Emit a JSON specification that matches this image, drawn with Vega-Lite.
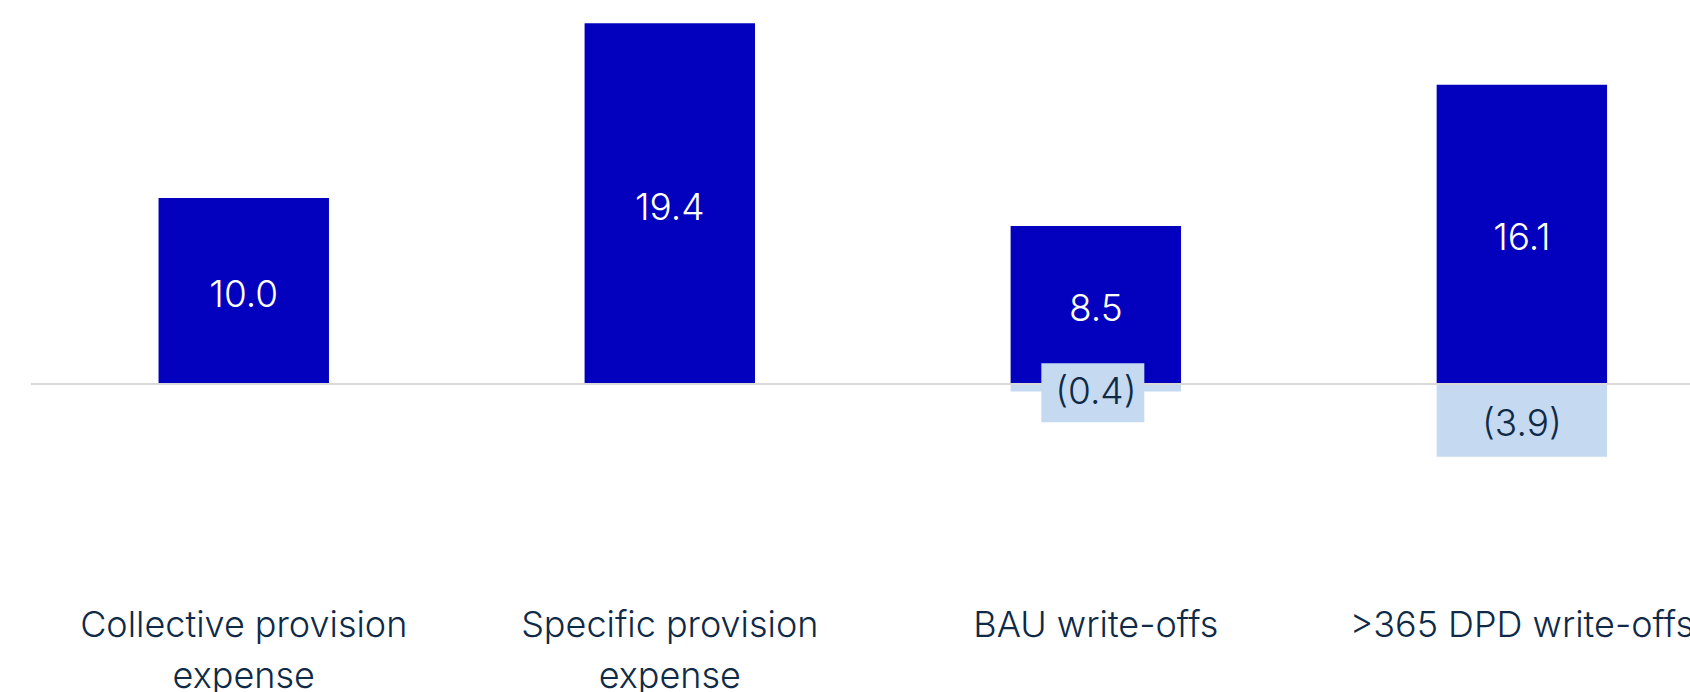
{
  "$schema": "https://vega.github.io/schema/vega-lite/v6.json",
  "autosize": "none",
  "width": 1659,
  "height": 570.1,
  "padding": {"left": 31, "top": 0, "right": 0, "bottom": 122},
  "background": "white",
  "config": {"view": {"stroke": null}, "font": "Inter"},
  "data": {
    "values": [
      {"category": "Collective provision expense", "value": 10.0},
      {"category": "Specific provision expense", "value": 19.4},
      {"category": "BAU write-offs", "value": 8.5},
      {"category": "BAU write-offs", "value": -0.4},
      {"category": ">365 DPD write-offs", "value": 16.1},
      {"category": ">365 DPD write-offs", "value": -3.9}
    ]
  },
  "encoding": {
    "x": {
      "field": "category",
      "type": "nominal",
      "sort": null,
      "scale": {"paddingInner": 0.6, "paddingOuter": 0.247, "align": 0.606},
      "axis": {
        "title": null,
        "domain": false,
        "ticks": false,
        "labelAngle": 0,
        "labelFont": "Inter",
        "labelFontSize": 36,
        "labelFontWeight": 300,
        "labelColor": "#0e2a47",
        "labelPadding": 38,
        "labelLimit": 0,
        "labelLineHeight": 51,
        "labelExpr": "datum.value == 'Collective provision expense' ? ['Collective provision', 'expense'] : datum.value == 'Specific provision expense' ? ['Specific provision', 'expense'] : datum.label"
      }
    }
  },
  "layer": [
    {
      "encoding": {
        "y": {"field": "value", "type": "quantitative", "scale": {"domain": [-10, 20.65], "nice": false, "zero": false}, "axis": null}
      },
      "layer": [
        {
          "mark": {"type": "bar"},
          "encoding": {
            "color": {"condition": {"test": "datum.value < 0", "value": "#C5D9F0"}, "value": "#0300BE"}
          }
        },
        {
          "mark": {"type": "rule", "color": "#d9d9d9", "strokeWidth": 2},
          "encoding": {"y": {"datum": 0, "type": "quantitative"}, "x": null}
        }
      ]
    },
    {
      "encoding": {
        "y": {"field": "value", "type": "quantitative", "scale": {"domain": [-20, 41.3], "nice": false, "zero": false}, "axis": null}
      },
      "layer": [
        {
          "transform": [{"filter": "datum.value < 0"}],
          "mark": {"type": "point", "filled": true, "shape": "M-1,-0.573L1,-0.573L1,0.573L-1,0.573Z", "size": 10609, "color": "#C5D9F0", "opacity": 1, "strokeWidth": 0, "yOffset": 5, "xOffset": -3}
        },
        {
          "mark": {"type": "text", "font": "Inter", "fontSize": 37, "fontWeight": 300, "align": "center", "baseline": "middle", "dy": 5},
          "encoding": {
            "text": {"field": "value", "type": "quantitative", "format": "(.1f"},
            "color": {"condition": {"test": "datum.value < 0", "value": "#0e2a47"}, "value": "white"}
          }
        }
      ]
    }
  ],
  "resolve": {"scale": {"y": "independent"}}
}
